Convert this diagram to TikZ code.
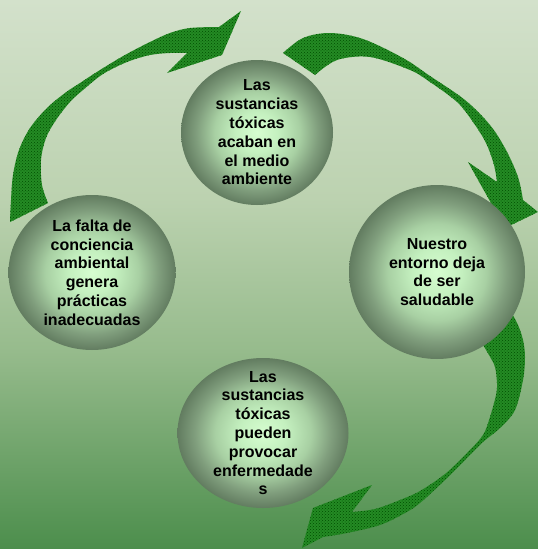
\documentclass[tikz,border=0pt]{standalone}
\usepackage{fontspec}
\setmainfont{Liberation Sans}
\usetikzlibrary{shapes.geometric,patterns}
\definecolor{bgtop}{RGB}{211,225,203}
\definecolor{bgmA}{RGB}{188,210,176}
\definecolor{bgmB}{RGB}{150,187,140}
\definecolor{bgbot}{RGB}{76,142,76}
\definecolor{ballin}{RGB}{214,253,208}
\definecolor{ballA}{RGB}{196,240,191}
\definecolor{ballB}{RGB}{168,208,163}
\definecolor{ballC}{RGB}{128,158,125}
\definecolor{ballout}{RGB}{98,124,96}
\definecolor{arrowgreen}{RGB}{36,138,36}
\definecolor{arrowdots}{RGB}{0,78,0}
\pgfdeclareverticalshading{bgshade}{100bp}{color(0bp)=(bgbot); color(25bp)=(bgbot); color(43bp)=(bgmB); color(57bp)=(bgmA); color(75bp)=(bgtop); color(100bp)=(bgtop)}
\pgfdeclareradialshading{ballshade}{\pgfpoint{0bp}{0bp}}{color(0bp)=(ballin); color(7bp)=(ballA); color(14bp)=(ballB); color(20bp)=(ballC); color(25bp)=(ballout); color(50bp)=(ballout)}
\tikzset{
  ball/.style={ellipse, shade, shading=ballshade, inner sep=0pt},
  txt/.style={align=center, font=\fontsize{16}{18.8}\selectfont\bfseries, text=black, inner sep=0pt},
  arrowshape/.style={fill=arrowgreen, postaction={pattern=crosshatch dots, pattern color=arrowdots}}
}
\begin{document}
\begin{tikzpicture}[x=1pt,y=-1pt]
\useasboundingbox (0,0) rectangle (538,549);
\shade[shading=bgshade] (0,0) rectangle (538,549);

% arrow: left -> top
\path[arrowshape] plot[smooth, tension=0.55] coordinates {(10,222) (11,200) (13,175) (19,150) (30,128) (47,108) (65,93) (80,83) (100,70) (125,55) (150,42) (170,33) (190,28) (219,27)}
  -- (241,11) -- (222,55) -- (167,73)
  -- plot[smooth, tension=0.55] coordinates {(187,53) (170,53) (150,55) (127,62) (103,74) (83,90) (70,102) (56,120) (46,138) (41,160) (42,185) (48,203)} -- cycle;

% arrow: top -> right
\path[arrowshape] plot[smooth, tension=0.55] coordinates {(283,53) (303,38) (330,33) (363,39) (403,58) (430,76) (465,100) (490,125) (506,150) (518,177) (523,200)}
  -- (538,212) -- (505,228) -- (468,162)
  -- plot[smooth, tension=0.55] coordinates {(497,182) (494,165) (486,143) (473,122) (457,102) (430,82) (410,70) (370,57) (337,60) (315,75)} -- cycle;

% arrow: right -> bottom
\path[arrowshape] plot[smooth, tension=0.55] coordinates {(510,310) (518,325) (523,340) (525,357) (523,380) (515,410) (500,428) (483,442) (465,460) (445,480) (420,503) (405,513) (380,525) (347,533) (323,537)}
  -- (302,548) -- (313,508) -- (372,485)
  -- plot[smooth, tension=0.55] coordinates {(352,512) (375,509) (400,500) (420,491) (445,474) (467,453) (483,435) (490,417) (496,395) (497,383) (495,367) (489,355) (480,340)} -- cycle;

\node[ball, minimum width=152pt, minimum height=145pt] (c1) at (257,132.5) {};
\node[ball, minimum width=167pt, minimum height=155pt] (c2) at (92,272.5) {};
\node[ball, minimum width=176pt, minimum height=174pt] (c3) at (437,272) {};
\node[ball, minimum width=171pt, minimum height=150pt] (c4) at (263,433) {};

\node[txt] (t1) at (c1) {Las\\sustancias\\tóxicas\\acaban en\\el medio\\ambiente};
\node[txt] (t2) at (c2) {La falta de\\conciencia\\ambiental\\genera\\prácticas\\inadecuadas};
\node[txt] (t3) at (c3) {Nuestro\\entorno deja\\de ser\\saludable};
\node[txt] (t4) at (c4) {Las\\sustancias\\tóxicas\\pueden\\provocar\\enfermedade\\s};
\end{tikzpicture}
\end{document}
